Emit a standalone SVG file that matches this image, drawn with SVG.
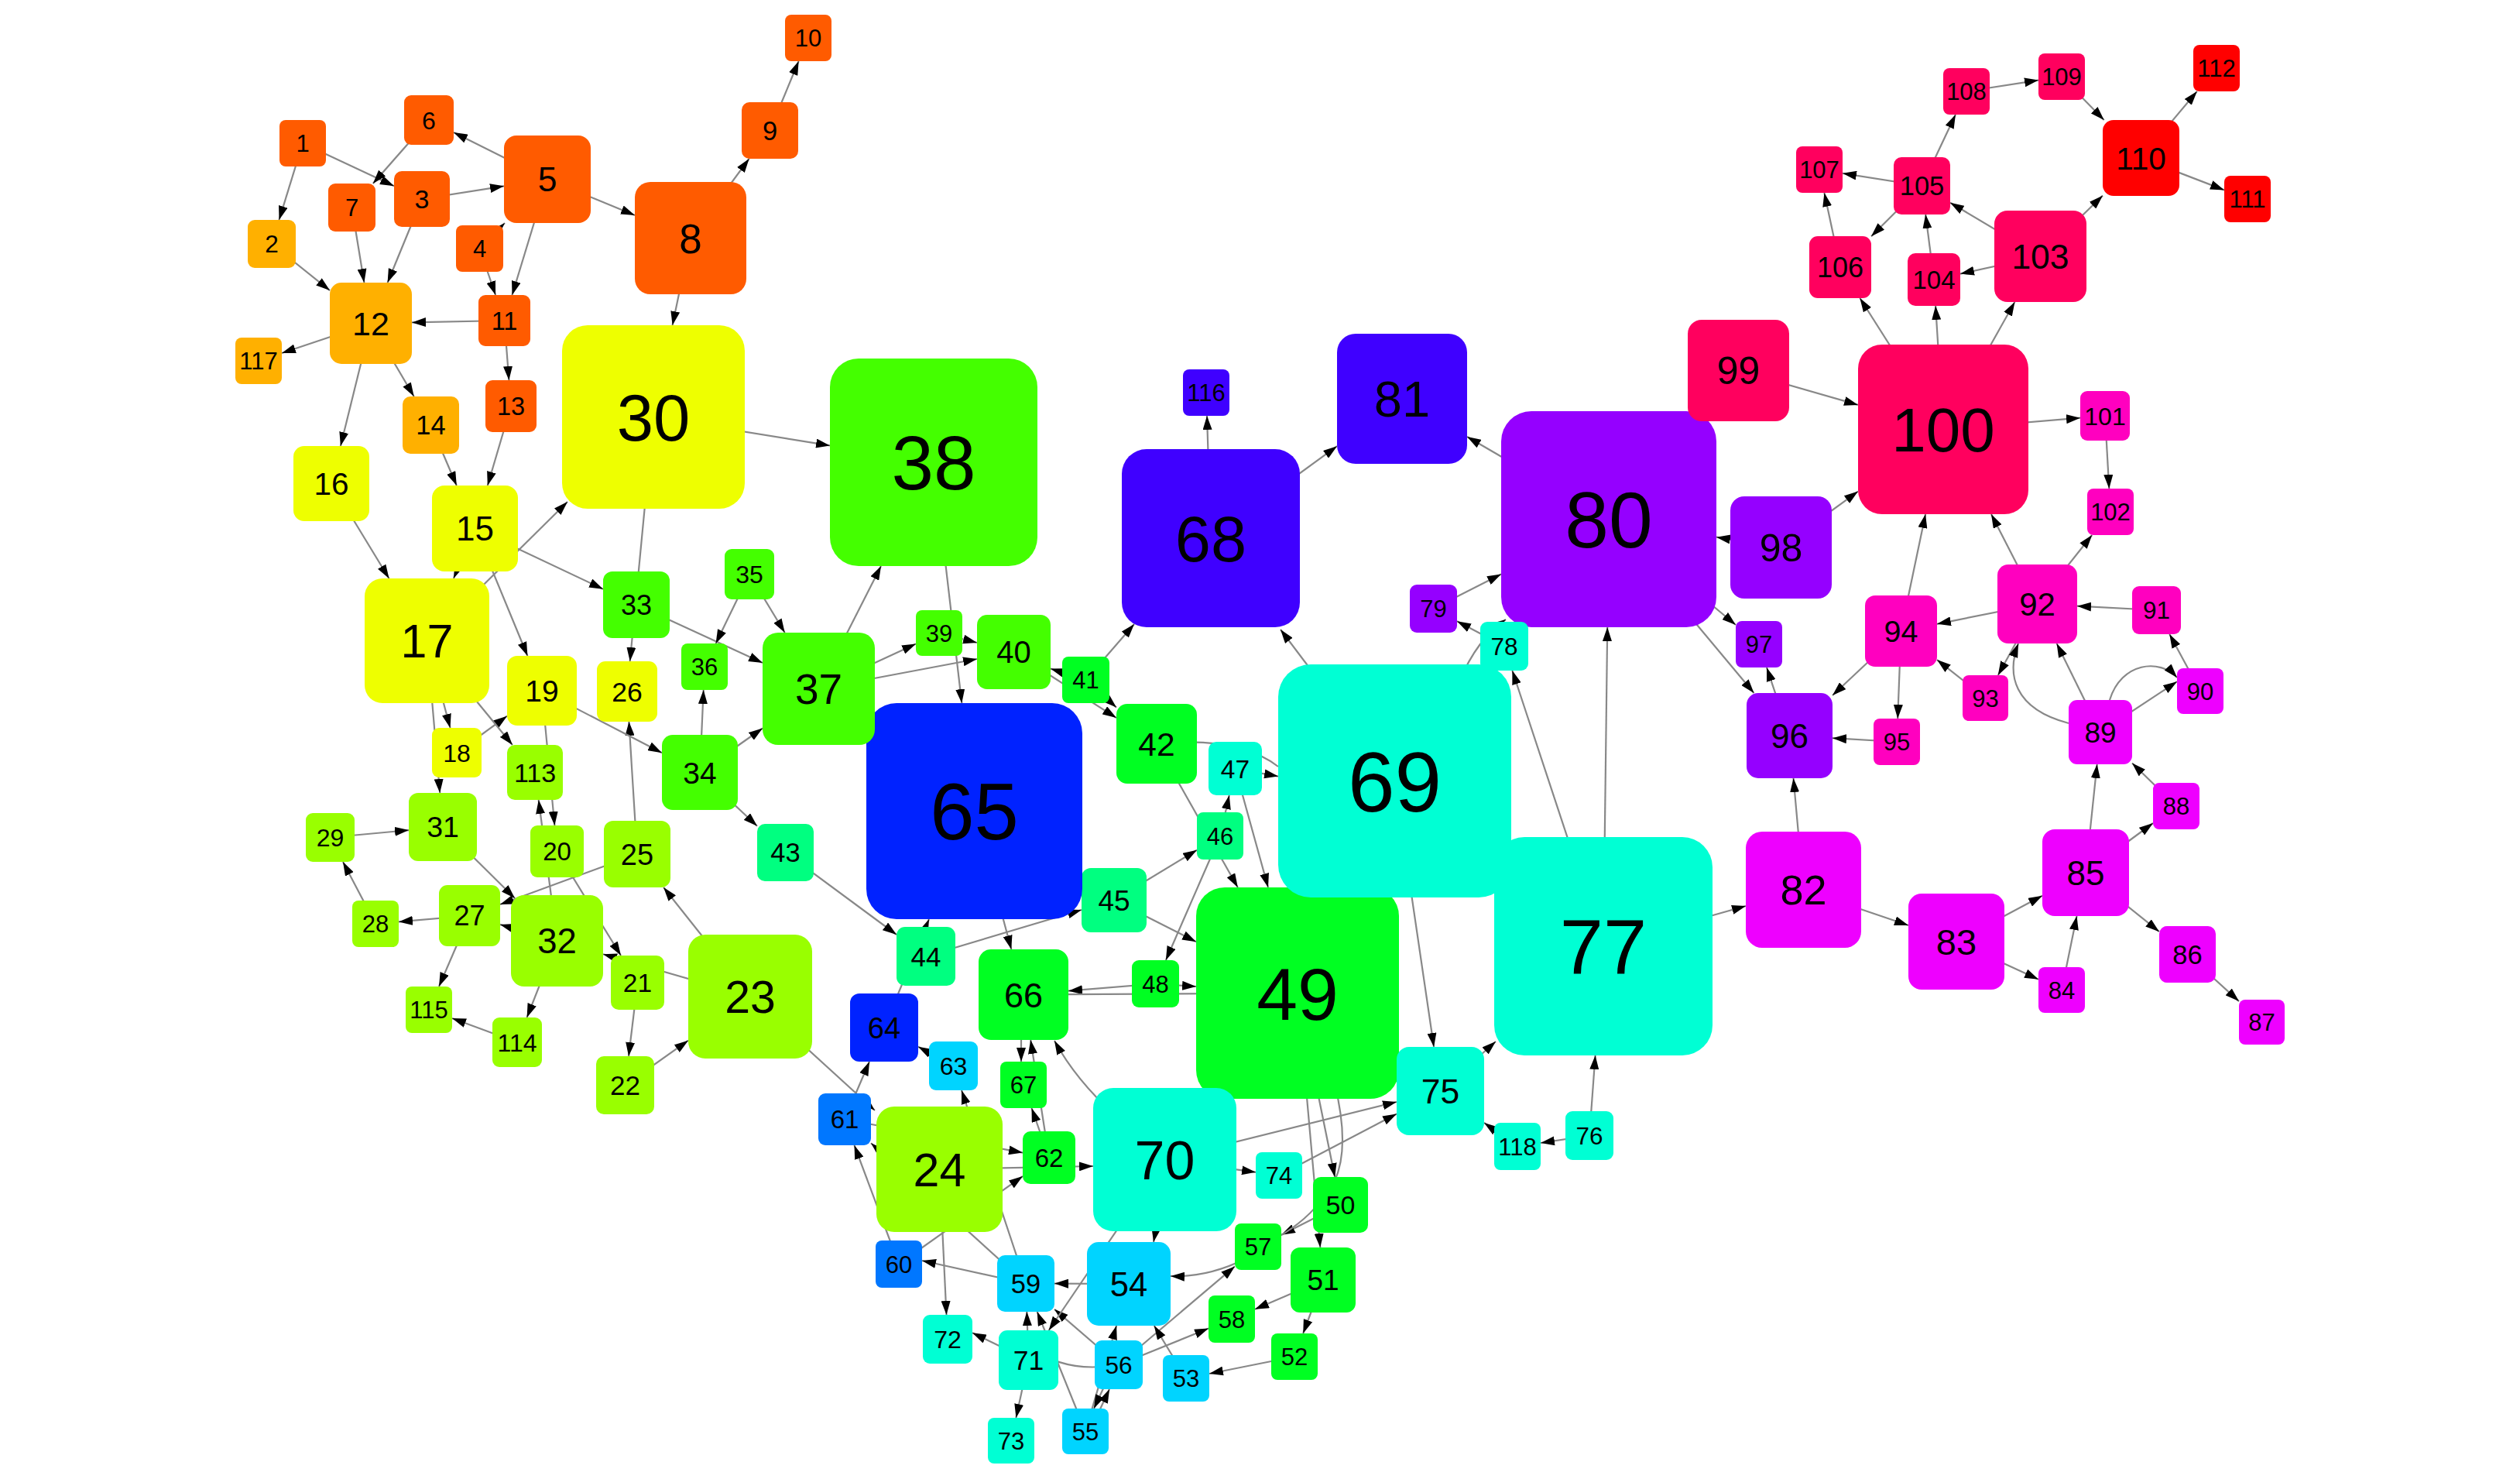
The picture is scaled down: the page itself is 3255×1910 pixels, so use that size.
<svg xmlns="http://www.w3.org/2000/svg" width="3255" height="1910" viewBox="0 0 3255 1910">
<defs>
<style>
.e path{fill:none;stroke:#888;stroke-width:2.2}
.a{marker-end:url(#ah)}
text{font-family:"Liberation Sans",Arial,sans-serif;text-anchor:middle;fill:#000}
.o{fill:#FF5B00}.y0{fill:#FFB000}.y{fill:#EEFF00}.yg{fill:#99FF00}.g1{fill:#44FF00}.g2{fill:#00FF22}.sg{fill:#00FF80}.aq{fill:#00FFD4}.sk{fill:#00D4FF}.b1{fill:#0077FF}.b2{fill:#0022FF}.in{fill:#3F00FF}.vi{fill:#9500FF}.mg{fill:#EE00FF}.pk{fill:#FF00BF}.cr{fill:#FF005E}.rd{fill:#FF0000}
</style>
<marker id="ah" viewBox="0 0 18 12" refX="18" refY="6" markerWidth="18" markerHeight="12" markerUnits="userSpaceOnUse" orient="auto"><path d="M0,0L18,6L0,12z" fill="#000"/></marker>
</defs>
<rect width="3255" height="1910" fill="#fff"/>
<g id="edges" class="e">
<path class="a" d="M391 185L360.5 284"/>
<path class="a" d="M391 185L509 240.2"/>
<path class="a" d="M554 155L481.8 237"/>
<path class="a" d="M707 231.5L586 171"/>
<path class="a" d="M545 257L651 240.3"/>
<path class="a" d="M707 231.5L820 277.9"/>
<path class="a" d="M619.5 321L652 288"/>
<path class="a" d="M707 231.5L661.5 381"/>
<path class="a" d="M619.5 321L640.1 381"/>
<path class="a" d="M454.5 268L470.4 365"/>
<path class="a" d="M545 257L500.6 365"/>
<path class="a" d="M351 315L426 375.1"/>
<path class="a" d="M651.5 414L532 416.4"/>
<path class="a" d="M479 417.5L364 456"/>
<path class="a" d="M479 417.5L439.9 576"/>
<path class="a" d="M479 417.5L534.7 512"/>
<path class="a" d="M651.5 414L657.4 491"/>
<path class="a" d="M556.5 549L589.8 627"/>
<path class="a" d="M660 524.5L629.8 627"/>
<path class="a" d="M892 307.5L868.6 420"/>
<path class="a" d="M892 307.5L967.6 205"/>
<path class="a" d="M994.5 168.5L1031.6 79"/>
<path class="a" d="M551.5 827.5L733 648"/>
<path class="a" d="M844 538.5L1072 575.4"/>
<path class="a" d="M428 624.5L502.5 747"/>
<path class="a" d="M613.5 682.5L585.9 747"/>
<path class="a" d="M613.5 682.5L779 760.7"/>
<path class="a" d="M613.5 682.5L681.4 847"/>
<path class="a" d="M844 538.5L813.7 854"/>
<path class="a" d="M823 1103L812.4 932"/>
<path class="a" d="M700 892L855 972.2"/>
<path class="a" d="M822 781L985 856.1"/>
<path class="a" d="M968 741.5L924.6 831"/>
<path class="a" d="M968 741.5L1013.7 817"/>
<path class="a" d="M904 997.5L908.7 891"/>
<path class="a" d="M904 997.5L985 940.5"/>
<path class="a" d="M904 997.5L978 1066.8"/>
<path class="a" d="M551.5 827.5L581.5 940"/>
<path class="a" d="M551.5 827.5L568.2 1024"/>
<path class="a" d="M590 972L655 924.7"/>
<path class="a" d="M551.5 827.5L661.9 962"/>
<path class="a" d="M700 892L716.4 1066"/>
<path class="a" d="M719.5 1215L695.7 1033"/>
<path class="a" d="M426.5 1081.5L528 1072.1"/>
<path class="a" d="M485 1193L443 1113"/>
<path class="a" d="M606.5 1182.5L515 1190.4"/>
<path class="a" d="M572 1068L665 1160"/>
<path class="a" d="M823 1103L646 1168"/>
<path class="a" d="M719.5 1215L646 1193.9"/>
<path class="a" d="M606.5 1182.5L567 1274"/>
<path class="a" d="M719.5 1215L680.6 1314"/>
<path class="a" d="M668 1346L584 1315"/>
<path class="a" d="M719.5 1099.5L802 1234"/>
<path class="a" d="M969 1287L779 1232.2"/>
<path class="a" d="M823.5 1269L812 1364"/>
<path class="a" d="M807.5 1401.5L889 1343.7"/>
<path class="a" d="M969 1287L857.1 1146"/>
<path class="a" d="M1057.5 889.5L1138 731"/>
<path class="a" d="M1057.5 889.5L1183 831.4"/>
<path class="a" d="M1057.5 889.5L1262 851"/>
<path class="a" d="M1213 817.5L1262 830"/>
<path class="a" d="M1206 597L1242.3 908"/>
<path class="a" d="M1402.5 878L1465 806"/>
<path class="a" d="M1402.5 878L1357 863.6"/>
<path class="a" d="M1309.5 842L1442 927.1"/>
<path class="a" d="M1402.5 878L1442 913.6"/>
<path class="a" d="M1014.5 1101L1158 1207"/>
<path class="a" d="M1142 1327L1200 1187"/>
<path class="a" d="M1196 1235L1397 1175"/>
<path class="a" d="M1439 1162.5L1546 1097.7"/>
<path class="a" d="M1439 1162.5L1545 1216.2"/>
<path class="a" d="M1258.5 1047.5L1306.3 1226"/>
<path class="a" d="M1492.5 1270.5L1380 1279.7"/>
<path class="a" d="M1492.5 1270.5L1545 1274"/>
<path d="M1676 1282.5L1380 1284.2"/>
<path class="a" d="M1576 1079.5L1505.9 1240"/>
<path class="a" d="M1494 960.5L1598.8 1146"/>
<path class="a" d="M1576 1079.5L1587.8 1027"/>
<path class="a" d="M1595.5 992.5L1638 1146"/>
<path class="a" d="M1595.5 992.5L1651 1002.6"/>
<path d="M1494 960.5Q1600 950 1651 990"/>
<path class="a" d="M1801.5 1008.5L1654 813"/>
<path class="a" d="M1564 695L1559 537"/>
<path class="a" d="M1564 695L1727 576.2"/>
<path class="a" d="M2078 670.5L1895 564"/>
<path class="a" d="M1851.5 786L1939 741.4"/>
<path class="a" d="M1943 834.5L1882 802.3"/>
<path class="a" d="M1885 880Q1908 825 1945 800"/>
<path class="a" d="M2071 1222L1953.4 866"/>
<path class="a" d="M2071 1222L2076.2 810"/>
<path class="a" d="M1801.5 1008.5L1852.1 1352"/>
<path class="a" d="M1860.5 1409L1932 1345"/>
<path class="a" d="M2053 1466.5L2060.6 1363"/>
<path class="a" d="M2053 1466.5L1990 1476"/>
<path class="a" d="M1960 1480.5L1917 1449.9"/>
<path class="a" d="M2071 1222L2255 1170"/>
<path class="a" d="M1504.5 1497.5L1804 1423"/>
<path class="a" d="M1652 1518L1804 1438.5"/>
<path class="a" d="M1504.5 1497.5L1622 1513.8"/>
<path class="a" d="M1676 1282.5L1724.2 1520"/>
<path d="M1724 1400Q1744 1481 1724 1525"/>
<path class="a" d="M1676 1282.5L1705.3 1611"/>
<path class="a" d="M1731.5 1556L1655 1594.8"/>
<path d="M1710 1545Q1690 1575 1650 1598"/>
<path class="a" d="M1610 1625Q1560 1650 1512 1648"/>
<path class="a" d="M1458 1658L1362 1657.6"/>
<path class="a" d="M1445 1762.5L1595 1635.4"/>
<path class="a" d="M1445 1762.5L1561 1715.6"/>
<path class="a" d="M1709 1653L1621 1690.7"/>
<path class="a" d="M1709 1653L1683.2 1722"/>
<path class="a" d="M1672 1752L1562 1774"/>
<path class="a" d="M1532 1780L1490.8 1712"/>
<path class="a" d="M1402 1848.5L1442.1 1712"/>
<path class="a" d="M1440.5 1760L1413 1819"/>
<path class="a" d="M1406.5 1850.7L1433 1794"/>
<path class="a" d="M1328.5 1756.5L1256 1721.2"/>
<path class="a" d="M1328.5 1756.5L1312.4 1831"/>
<path class="a" d="M1328.5 1756.5L1326.3 1694"/>
<path class="a" d="M1402 1848.5L1339.7 1694"/>
<path class="a" d="M1325 1657.5L1242 1408"/>
<path class="a" d="M1445 1762.5L1362 1690.8"/>
<path class="a" d="M1325 1657.5L1125 1476.3"/>
<path class="a" d="M1504.5 1497.5L1354.7 1718"/>
<path class="a" d="M1510 1500L1490 1604"/>
<path class="a" d="M1440 1440Q1390 1395 1362 1344"/>
<path class="a" d="M1319 1290L1319 1371"/>
<path class="a" d="M1355 1495L1332.5 1431"/>
<path class="a" d="M1355 1495L1331.2 1343"/>
<path class="a" d="M1091 1445.5L1321 1488.6"/>
<path class="a" d="M1213.5 1510L1412 1506"/>
<path class="a" d="M1161 1632.5L1321 1519"/>
<path class="a" d="M1325 1657.5L1191 1628"/>
<path class="a" d="M1213.5 1510L1222.5 1698"/>
<path class="a" d="M1161 1632.5L1103.5 1479"/>
<path class="a" d="M1091 1445.5L1123 1371"/>
<path class="a" d="M1231.5 1376.5L1186 1351.7"/>
<path class="a" d="M969 1287L1130 1434"/>
<path d="M1330 1740Q1380 1775 1445 1762"/>
<path d="M1676 1282.5L1504.5 1497.5"/>
<path class="a" d="M2245.5 478.5L2400 522.9"/>
<path class="a" d="M2300.5 707L2400 634.6"/>
<path class="a" d="M2300.5 707L2217 693.7"/>
<path class="a" d="M2078 670.5L2242 807"/>
<path class="a" d="M2078 670.5L2265.5 895"/>
<path class="a" d="M2311.5 950L2282 862"/>
<path class="a" d="M2455.5 815L2367 898"/>
<path class="a" d="M2450 958L2367 953.2"/>
<path class="a" d="M2329.5 1149L2316.5 1005"/>
<path class="a" d="M2455.5 815L2487.1 664"/>
<path class="a" d="M2631.5 780L2572 664"/>
<path class="a" d="M2631.5 780L2502 805.8"/>
<path class="a" d="M2631.5 780L2702.2 691"/>
<path class="a" d="M2719 537L2724.3 631"/>
<path class="a" d="M2510 554.5L2687 539.7"/>
<path class="a" d="M2785.5 788L2683 782.7"/>
<path class="a" d="M2564.5 901.5L2502 852.1"/>
<path class="a" d="M2631.5 780L2580.8 872"/>
<path class="a" d="M2672 934C2600 915 2592 870 2607 831"/>
<path class="a" d="M2713 945.5L2656.6 831"/>
<path class="a" d="M2713 945.5L2812 880.2"/>
<path class="a" d="M2725 904C2740 855 2790 850 2812 875"/>
<path class="a" d="M2842 892.5L2802.3 819"/>
<path class="a" d="M2694 1127L2708.7 987"/>
<path class="a" d="M2811 1041L2754 985.5"/>
<path class="a" d="M2694 1127L2781 1063"/>
<path class="a" d="M2694 1127L2789 1203.2"/>
<path class="a" d="M2825.5 1232.5L2892 1293.1"/>
<path class="a" d="M2527 1216L2638 1156.8"/>
<path class="a" d="M2527 1216L2633 1264.7"/>
<path class="a" d="M2663 1278.5L2682.5 1183"/>
<path class="a" d="M2329.5 1149L2465 1195"/>
<path class="a" d="M2510 554.5L2402.4 385"/>
<path class="a" d="M2510 554.5L2500.1 395"/>
<path class="a" d="M2510 554.5L2602.4 390"/>
<path class="a" d="M2635.5 331L2532 353.6"/>
<path class="a" d="M2635.5 331L2519 261.7"/>
<path class="a" d="M2635.5 331L2716 252.6"/>
<path class="a" d="M2498 361L2487.2 277"/>
<path class="a" d="M2482.5 240L2417 305.2"/>
<path class="a" d="M2482.5 240L2380 223.8"/>
<path class="a" d="M2377 345L2356.4 249"/>
<path class="a" d="M2482.5 240L2525.9 148"/>
<path class="a" d="M2540 118L2633 103.6"/>
<path class="a" d="M2663 99L2717.7 155"/>
<path class="a" d="M2765.5 204L2837.8 118"/>
<path class="a" d="M2765.5 204L2873 245.4"/>
<path class="a" d="M2455.5 815L2451.2 928"/>
</g>
<g id="nodes">
<g id="n1"><rect class="o" x="361" y="155" width="60" height="60" rx="8"/><text x="391" y="196.1" font-size="31">1</text></g>
<g id="n2"><rect class="y0" x="320" y="284" width="62" height="62" rx="9"/><text x="351" y="326.3" font-size="31.5">2</text></g>
<g id="n3"><rect class="o" x="509" y="221" width="72" height="72" rx="10"/><text x="545" y="269.2" font-size="34">3</text></g>
<g id="n4"><rect class="o" x="589" y="291" width="61" height="60" rx="8"/><text x="619.5" y="332.1" font-size="31">4</text></g>
<g id="n5"><rect class="o" x="651" y="175" width="112" height="113" rx="16"/><text x="707" y="247.4" font-size="44.5">5</text></g>
<g id="n6"><rect class="o" x="522" y="123" width="64" height="64" rx="9"/><text x="554" y="166.5" font-size="32">6</text></g>
<g id="n7"><rect class="o" x="424" y="237" width="61" height="62" rx="9"/><text x="454.5" y="279.1" font-size="31">7</text></g>
<g id="n8"><rect class="o" x="820" y="235" width="144" height="145" rx="20"/><text x="892" y="326.5" font-size="53">8</text></g>
<g id="n9"><rect class="o" x="958" y="132" width="73" height="73" rx="10"/><text x="994.5" y="180.9" font-size="34.5">9</text></g>
<g id="n10"><rect class="o" x="1014" y="19" width="60" height="60" rx="8"/><text x="1044" y="60.1" font-size="31">10</text></g>
<g id="n11"><rect class="o" x="618" y="381" width="67" height="66" rx="9"/><text x="651.5" y="425.6" font-size="32.5">11</text></g>
<g id="n12"><rect class="y0" x="426" y="365" width="106" height="105" rx="15"/><text x="479" y="432.9" font-size="43">12</text></g>
<g id="n13"><rect class="o" x="627" y="491" width="66" height="67" rx="9"/><text x="660" y="536.1" font-size="32.5">13</text></g>
<g id="n14"><rect class="y0" x="520" y="512" width="73" height="74" rx="10"/><text x="556.5" y="561.4" font-size="34.5">14</text></g>
<g id="n15"><rect class="y" x="558" y="627" width="111" height="111" rx="16"/><text x="613.5" y="698.3" font-size="44">15</text></g>
<g id="n16"><rect class="y" x="379" y="576" width="98" height="97" rx="14"/><text x="428" y="639" font-size="40.5">16</text></g>
<g id="n17"><rect class="y" x="471" y="747" width="161" height="161" rx="23"/><text x="551.5" y="849.3" font-size="61">17</text></g>
<g id="n18"><rect class="y" x="558" y="940" width="64" height="64" rx="9"/><text x="590" y="983.5" font-size="32">18</text></g>
<g id="n19"><rect class="y" x="655" y="847" width="90" height="90" rx="13"/><text x="700" y="906" font-size="39">19</text></g>
<g id="n20"><rect class="yg" x="685" y="1066" width="69" height="67" rx="9"/><text x="719.5" y="1111.3" font-size="33">20</text></g>
<g id="n21"><rect class="yg" x="789" y="1234" width="69" height="70" rx="10"/><text x="823.5" y="1281" font-size="33.5">21</text></g>
<g id="n22"><rect class="yg" x="770" y="1364" width="75" height="75" rx="10"/><text x="807.5" y="1414" font-size="35">22</text></g>
<g id="n23"><rect class="yg" x="889" y="1207" width="160" height="160" rx="22"/><text x="969" y="1308.1" font-size="59">23</text></g>
<g id="n24"><rect class="yg" x="1132" y="1429" width="163" height="162" rx="23"/><text x="1213.5" y="1531.8" font-size="61">24</text></g>
<g id="n25"><rect class="yg" x="780" y="1060" width="86" height="86" rx="12"/><text x="823" y="1116.6" font-size="38">25</text></g>
<g id="n26"><rect class="y" x="771" y="854" width="78" height="78" rx="11"/><text x="810" y="905.7" font-size="35.5">26</text></g>
<g id="n27"><rect class="yg" x="567" y="1143" width="79" height="79" rx="11"/><text x="606.5" y="1195.4" font-size="36">27</text></g>
<g id="n28"><rect class="yg" x="455" y="1163" width="60" height="60" rx="8"/><text x="485" y="1204.1" font-size="31">28</text></g>
<g id="n29"><rect class="yg" x="395" y="1050" width="63" height="63" rx="9"/><text x="426.5" y="1093" font-size="32">29</text></g>
<g id="n30"><rect class="y" x="726" y="420" width="236" height="237" rx="33"/><text x="844" y="568.9" font-size="85">30</text></g>
<g id="n31"><rect class="yg" x="528" y="1024" width="88" height="88" rx="12"/><text x="572" y="1081.4" font-size="37.5">31</text></g>
<g id="n32"><rect class="yg" x="660" y="1156" width="119" height="118" rx="17"/><text x="719.5" y="1231.3" font-size="45.5">32</text></g>
<g id="n33"><rect class="g1" x="779" y="738" width="86" height="86" rx="12"/><text x="822" y="793.9" font-size="36">33</text></g>
<g id="n34"><rect class="g1" x="855" y="949" width="98" height="97" rx="14"/><text x="904" y="1011.5" font-size="39">34</text></g>
<g id="n35"><rect class="g1" x="936" y="709" width="64" height="65" rx="9"/><text x="968" y="753" font-size="32">35</text></g>
<g id="n36"><rect class="g1" x="880" y="831" width="60" height="60" rx="8"/><text x="910" y="872.1" font-size="31">36</text></g>
<g id="n38"><rect class="g1" x="1072" y="463" width="268" height="268" rx="37"/><text x="1206" y="632.1" font-size="98">38</text></g>
<g id="n39"><rect class="g1" x="1183" y="788" width="60" height="59" rx="8"/><text x="1213" y="828.6" font-size="31">39</text></g>
<g id="n40"><rect class="g1" x="1262" y="794" width="95" height="96" rx="13"/><text x="1309.5" y="856.3" font-size="40">40</text></g>
<g id="n41"><rect class="g2" x="1372" y="848" width="61" height="60" rx="8"/><text x="1402.5" y="889.1" font-size="31">41</text></g>
<g id="n42"><rect class="g2" x="1442" y="909" width="104" height="103" rx="14"/><text x="1494" y="975.7" font-size="42.5">42</text></g>
<g id="n43"><rect class="sg" x="978" y="1064" width="73" height="74" rx="10"/><text x="1014.5" y="1113.4" font-size="34.5">43</text></g>
<g id="n44"><rect class="sg" x="1158" y="1197" width="76" height="76" rx="11"/><text x="1196" y="1247.5" font-size="35">44</text></g>
<g id="n45"><rect class="sg" x="1397" y="1121" width="84" height="83" rx="12"/><text x="1439" y="1175.7" font-size="37">45</text></g>
<g id="n46"><rect class="sg" x="1546" y="1049" width="60" height="61" rx="8"/><text x="1576" y="1090.6" font-size="31">46</text></g>
<g id="n47"><rect class="aq" x="1561" y="958" width="69" height="69" rx="10"/><text x="1595.5" y="1004.5" font-size="33.5">47</text></g>
<g id="n48"><rect class="g2" x="1462" y="1240" width="61" height="61" rx="9"/><text x="1492.5" y="1281.6" font-size="31">48</text></g>
<g id="n49"><rect class="g2" x="1545" y="1146" width="262" height="273" rx="37"/><text x="1676" y="1316.5" font-size="95">49</text></g>
<g id="n50"><rect class="g2" x="1696" y="1520" width="71" height="72" rx="10"/><text x="1731.5" y="1568.2" font-size="34">50</text></g>
<g id="n51"><rect class="g2" x="1667" y="1611" width="84" height="84" rx="12"/><text x="1709" y="1666.2" font-size="37">51</text></g>
<g id="n52"><rect class="g2" x="1642" y="1722" width="60" height="60" rx="8"/><text x="1672" y="1763.1" font-size="31">52</text></g>
<g id="n53"><rect class="sk" x="1502" y="1750" width="60" height="60" rx="8"/><text x="1532" y="1791.1" font-size="31">53</text></g>
<g id="n54"><rect class="sk" x="1404" y="1604" width="108" height="108" rx="15"/><text x="1458" y="1673.6" font-size="43.5">54</text></g>
<g id="n55"><rect class="sk" x="1372" y="1819" width="60" height="59" rx="8"/><text x="1402" y="1859.6" font-size="31">55</text></g>
<g id="n56"><rect class="sk" x="1414" y="1731" width="62" height="63" rx="9"/><text x="1445" y="1773.8" font-size="31.5">56</text></g>
<g id="n57"><rect class="g2" x="1595" y="1580" width="60" height="60" rx="8"/><text x="1625" y="1621.1" font-size="31">57</text></g>
<g id="n58"><rect class="g2" x="1561" y="1673" width="60" height="61" rx="8"/><text x="1591" y="1714.6" font-size="31">58</text></g>
<g id="n59"><rect class="sk" x="1288" y="1621" width="74" height="73" rx="10"/><text x="1325" y="1669.9" font-size="34.5">59</text></g>
<g id="n60"><rect class="b1" x="1131" y="1602" width="60" height="61" rx="8"/><text x="1161" y="1643.6" font-size="31">60</text></g>
<g id="n61"><rect class="b1" x="1057" y="1412" width="68" height="67" rx="9"/><text x="1091" y="1457.3" font-size="33">61</text></g>
<g id="n62"><rect class="g2" x="1321" y="1461" width="68" height="68" rx="10"/><text x="1355" y="1506.8" font-size="33">62</text></g>
<g id="n63"><rect class="sk" x="1200" y="1345" width="63" height="63" rx="9"/><text x="1231.5" y="1388" font-size="32">63</text></g>
<g id="n64"><rect class="b2" x="1098" y="1283" width="88" height="88" rx="12"/><text x="1142" y="1340.6" font-size="38">64</text></g>
<g id="n65"><rect class="b2" x="1119" y="908" width="279" height="279" rx="39"/><text x="1258.5" y="1084.4" font-size="103">65</text></g>
<g id="n37"><rect class="g1" x="985" y="817" width="145" height="145" rx="20"/><text x="1057.5" y="909.2" font-size="55">37</text></g>
<g id="n66"><rect class="g2" x="1264" y="1226" width="116" height="117" rx="16"/><text x="1322" y="1300.6" font-size="45">66</text></g>
<g id="n67"><rect class="g2" x="1292" y="1371" width="60" height="60" rx="8"/><text x="1322" y="1412.1" font-size="31">67</text></g>
<g id="n68"><rect class="in" x="1449" y="580" width="230" height="230" rx="32"/><text x="1564" y="724.7" font-size="83">68</text></g>
<g id="n69"><rect class="aq" x="1651" y="858" width="301" height="301" rx="42"/><text x="1801.5" y="1047.5" font-size="109">69</text></g>
<g id="n70"><rect class="aq" x="1412" y="1405" width="185" height="185" rx="26"/><text x="1504.5" y="1522.6" font-size="70">70</text></g>
<g id="n71"><rect class="aq" x="1290" y="1718" width="77" height="77" rx="11"/><text x="1328.5" y="1769.2" font-size="35.5">71</text></g>
<g id="n72"><rect class="aq" x="1192" y="1698" width="64" height="63" rx="9"/><text x="1224" y="1741" font-size="32">72</text></g>
<g id="n73"><rect class="aq" x="1276" y="1831" width="60" height="59" rx="8"/><text x="1306" y="1871.6" font-size="31">73</text></g>
<g id="n74"><rect class="aq" x="1622" y="1488" width="60" height="60" rx="8"/><text x="1652" y="1529.1" font-size="31">74</text></g>
<g id="n75"><rect class="aq" x="1804" y="1352" width="113" height="114" rx="16"/><text x="1860.5" y="1424.9" font-size="44.5">75</text></g>
<g id="n76"><rect class="aq" x="2022" y="1435" width="62" height="63" rx="9"/><text x="2053" y="1477.8" font-size="31.5">76</text></g>
<g id="n77"><rect class="aq" x="1930" y="1081" width="282" height="282" rx="39"/><text x="2071" y="1258.2" font-size="101">77</text></g>
<g id="n79"><rect class="vi" x="1821" y="755" width="61" height="62" rx="9"/><text x="1851.5" y="797.1" font-size="31">79</text></g>
<g id="n80"><rect class="vi" x="1939" y="531" width="278" height="279" rx="39"/><text x="2078" y="707" font-size="102">80</text></g>
<g id="n78"><rect class="aq" x="1912" y="803" width="62" height="63" rx="9"/><text x="1943" y="845.8" font-size="31.5">78</text></g>
<g id="n81"><rect class="in" x="1727" y="431" width="168" height="168" rx="24"/><text x="1811" y="538.3" font-size="65">81</text></g>
<g id="n82"><rect class="mg" x="2255" y="1074" width="149" height="150" rx="21"/><text x="2329.5" y="1168.3" font-size="54">82</text></g>
<g id="n83"><rect class="mg" x="2465" y="1154" width="124" height="124" rx="17"/><text x="2527" y="1232.8" font-size="47">83</text></g>
<g id="n84"><rect class="mg" x="2633" y="1249" width="60" height="59" rx="8"/><text x="2663" y="1289.6" font-size="31">84</text></g>
<g id="n85"><rect class="mg" x="2638" y="1071" width="112" height="112" rx="16"/><text x="2694" y="1142.8" font-size="44">85</text></g>
<g id="n86"><rect class="mg" x="2789" y="1196" width="73" height="73" rx="10"/><text x="2825.5" y="1244.9" font-size="34.5">86</text></g>
<g id="n87"><rect class="mg" x="2892" y="1291" width="59" height="58" rx="8"/><text x="2921.5" y="1331.1" font-size="31">87</text></g>
<g id="n88"><rect class="mg" x="2781" y="1011" width="60" height="60" rx="8"/><text x="2811" y="1052.1" font-size="31">88</text></g>
<g id="n89"><rect class="mg" x="2672" y="904" width="82" height="83" rx="11"/><text x="2713" y="958.7" font-size="37">89</text></g>
<g id="n90"><rect class="mg" x="2812" y="863" width="60" height="59" rx="8"/><text x="2842" y="903.6" font-size="31">90</text></g>
<g id="n91"><rect class="pk" x="2754" y="757" width="63" height="62" rx="9"/><text x="2785.5" y="799.3" font-size="31.5">91</text></g>
<g id="n92"><rect class="pk" x="2580" y="729" width="103" height="102" rx="14"/><text x="2631.5" y="795" font-size="42">92</text></g>
<g id="n93"><rect class="pk" x="2535" y="872" width="59" height="59" rx="8"/><text x="2564.5" y="912.6" font-size="31">93</text></g>
<g id="n94"><rect class="pk" x="2409" y="769" width="93" height="92" rx="13"/><text x="2455.5" y="829.1" font-size="39.5">94</text></g>
<g id="n95"><rect class="pk" x="2420" y="928" width="60" height="60" rx="8"/><text x="2450" y="969.1" font-size="31">95</text></g>
<g id="n96"><rect class="vi" x="2256" y="895" width="111" height="110" rx="15"/><text x="2311.5" y="965.8" font-size="44">96</text></g>
<g id="n97"><rect class="vi" x="2242" y="802" width="60" height="60" rx="8"/><text x="2272" y="843.1" font-size="31">97</text></g>
<g id="n98"><rect class="vi" x="2235" y="641" width="131" height="132" rx="18"/><text x="2300.5" y="724.9" font-size="50">98</text></g>
<g id="n99"><rect class="cr" x="2180" y="413" width="131" height="131" rx="18"/><text x="2245.5" y="496.4" font-size="50">99</text></g>
<g id="n100"><rect class="cr" x="2400" y="445" width="220" height="219" rx="31"/><text x="2510" y="583.1" font-size="80">100</text></g>
<g id="n101"><rect class="pk" x="2687" y="505" width="64" height="64" rx="9"/><text x="2719" y="548.5" font-size="32">101</text></g>
<g id="n102"><rect class="pk" x="2696" y="631" width="60" height="60" rx="8"/><text x="2726" y="672.1" font-size="31">102</text></g>
<g id="n103"><rect class="cr" x="2576" y="272" width="119" height="118" rx="17"/><text x="2635.5" y="346.9" font-size="44.5">103</text></g>
<g id="n104"><rect class="cr" x="2464" y="327" width="68" height="68" rx="10"/><text x="2498" y="372.8" font-size="33">104</text></g>
<g id="n105"><rect class="cr" x="2446" y="203" width="73" height="74" rx="10"/><text x="2482.5" y="252.4" font-size="34.5">105</text></g>
<g id="n106"><rect class="cr" x="2337" y="305" width="80" height="80" rx="11"/><text x="2377" y="357.9" font-size="36">106</text></g>
<g id="n107"><rect class="cr" x="2320" y="189" width="60" height="60" rx="8"/><text x="2350" y="230.1" font-size="31">107</text></g>
<g id="n108"><rect class="cr" x="2510" y="88" width="60" height="60" rx="8"/><text x="2540" y="129.1" font-size="31">108</text></g>
<g id="n109"><rect class="cr" x="2633" y="69" width="60" height="60" rx="8"/><text x="2663" y="110.1" font-size="31">109</text></g>
<g id="n110"><rect class="rd" x="2716" y="155" width="99" height="98" rx="14"/><text x="2765.5" y="218.5" font-size="40.5">110</text></g>
<g id="n111"><rect class="rd" x="2873" y="227" width="60" height="60" rx="8"/><text x="2903" y="268.1" font-size="31">111</text></g>
<g id="n112"><rect class="rd" x="2833" y="58" width="60" height="60" rx="8"/><text x="2863" y="99.1" font-size="31">112</text></g>
<g id="n113"><rect class="yg" x="655" y="962" width="72" height="71" rx="10"/><text x="691" y="1009.7" font-size="34">113</text></g>
<g id="n114"><rect class="yg" x="636" y="1314" width="64" height="64" rx="9"/><text x="668" y="1357.5" font-size="32">114</text></g>
<g id="n115"><rect class="yg" x="524" y="1274" width="60" height="60" rx="8"/><text x="554" y="1315.1" font-size="31">115</text></g>
<g id="n116"><rect class="in" x="1528" y="477" width="60" height="60" rx="8"/><text x="1558" y="518.1" font-size="31">116</text></g>
<g id="n117"><rect class="y0" x="304" y="436" width="60" height="60" rx="8"/><text x="334" y="477.1" font-size="31">117</text></g>
<g id="n118"><rect class="aq" x="1930" y="1450" width="60" height="61" rx="8"/><text x="1960" y="1491.6" font-size="31">118</text></g>
</g>
</svg>
